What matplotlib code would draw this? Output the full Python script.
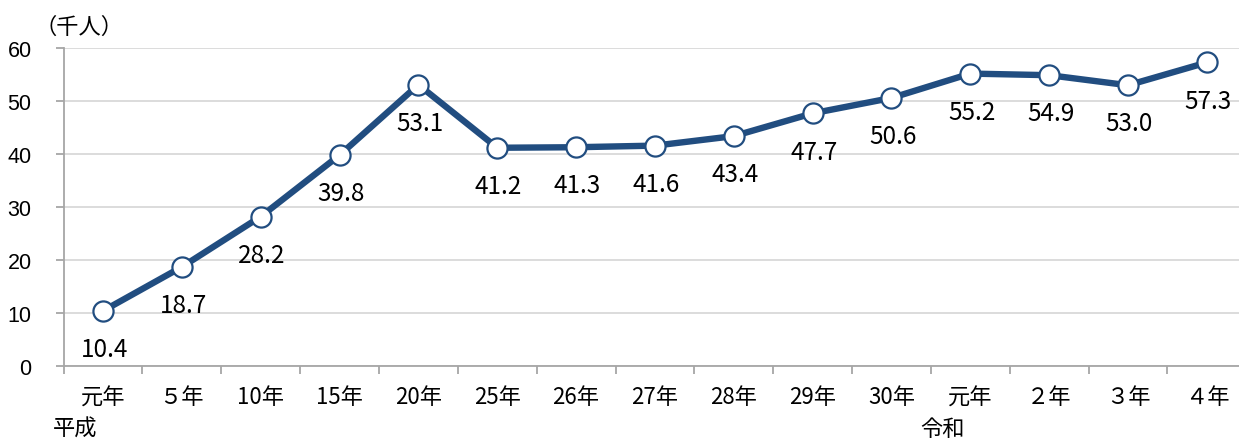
import matplotlib
matplotlib.use("Agg")
import matplotlib.pyplot as plt
import numpy as np

plt.rcParams["font.family"] = ["Noto Sans CJK JP", "DejaVu Sans"]

# 年次と人数（千人）
years = ["元年", "５年", "10年", "15年", "20年", "25年", "26年", "27年",
         "28年", "29年", "30年", "元年", "２年", "３年", "４年"]
values = [10.4, 18.7, 28.2, 39.8, 53.1, 41.2, 41.3, 41.6,
          43.4, 47.7, 50.6, 55.2, 54.9, 53.0, 57.3]
era_labels = [("平成", 0), ("令和", 11)]

LINE = "#214D80"
GRID = "#D9D9D9"
AXIS = "#A6A6A6"

fig = plt.figure(figsize=(12.39, 4.39), dpi=100)
ax = fig.add_axes([0.0513, 0.164, 0.9546, 0.724])

x = np.arange(len(values))
ax.plot(x, values, color=LINE, lw=4.6, marker="o", ms=14.5,
        mfc="white", mec=LINE, mew=1.6, zorder=3, clip_on=False)

# 数値ラベルは各点の下に
for i, v in enumerate(values):
    ax.annotate(f"{v:.1f}", (i, v), xytext=(1, -27.5), textcoords="offset points",
                ha="center", va="center", fontsize=17.5, color="black")

ax.set_xlim(-0.5, len(values) - 0.5)
ax.set_ylim(0, 60)
ax.set_yticks(np.arange(0, 61, 10))
ax.yaxis.grid(True, color=GRID, lw=1.3)
ax.set_axisbelow(True)

ax.set_xticks(x)
ax.set_xticklabels(years, fontsize=16)
ax.set_xticks(np.arange(-0.5, len(values), 1), minor=True)
ax.tick_params(axis="x", which="major", length=0, pad=14)
ax.tick_params(axis="x", which="minor", length=6, width=1.3, color=AXIS, direction="out")
ax.tick_params(axis="y", length=6, width=1.3, color=AXIS, pad=17)
for lab in ax.get_yticklabels():
    lab.set_fontfamily("Liberation Sans")
    lab.set_fontsize(15.5)

for side in ("top", "right"):
    ax.spines[side].set_visible(False)
for side in ("left", "bottom"):
    ax.spines[side].set_color(AXIS)
    ax.spines[side].set_linewidth(1.3)

for text, pos in era_labels:
    ax.annotate(text, (pos, 0), xycoords=("data", "axes fraction"),
                xytext=(-20, -45), textcoords="offset points",
                ha="center", va="center", fontsize=16)

fig.text(0.028, 0.938, "（千人）", fontsize=16, ha="left", va="center")

fig.savefig("out.png", dpi=100)
